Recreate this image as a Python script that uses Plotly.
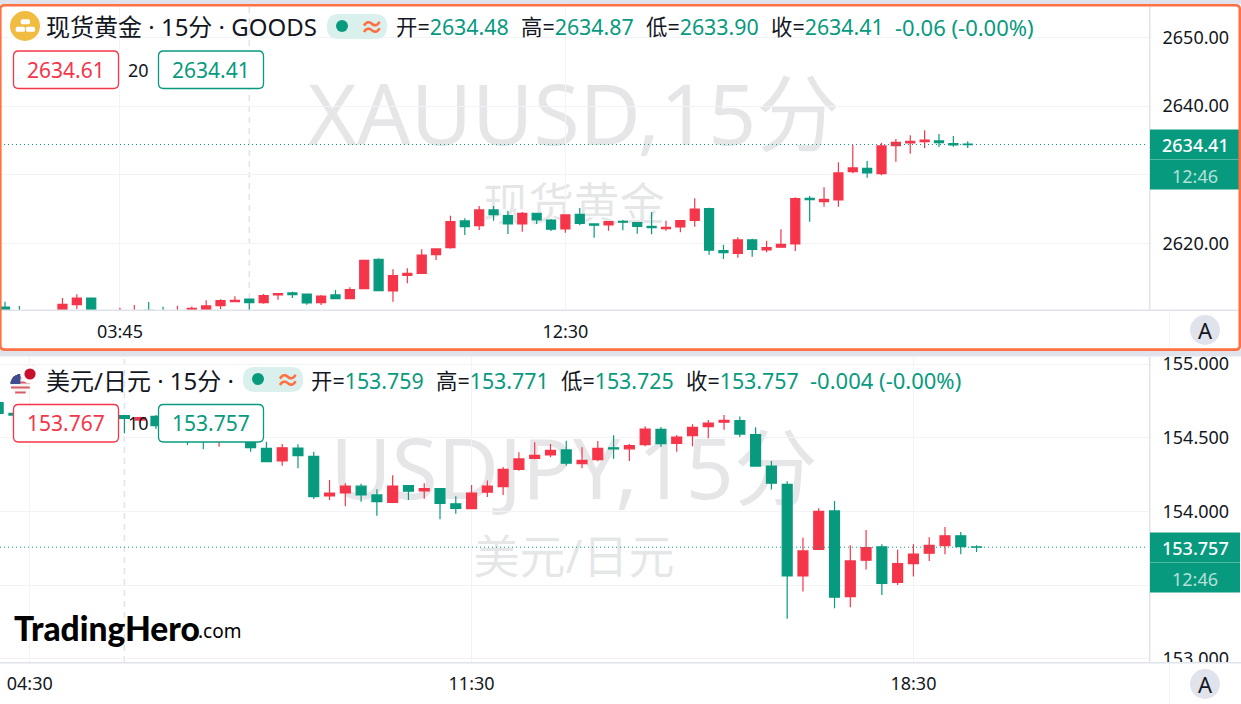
import math

import plotly.graph_objects as go

W, H = 1241, 704
RED = "#F5364A"
GREEN = "#089A7E"
GRID = "#F2F3F7"
EDGE = "#E0E3EB"
ORANGE = "#FF7043"
TEXT = "#131722"
FONT = "Noto Sans, Noto Sans CJK SC, sans-serif"

# spot gold, 15 minute bars
gold_open = [2610.75, 2610.10, 2609.90, 2609.70, 2610.00, 2611.09, 2612.06, 2609.90, 2609.90, 2609.90,
             2610.25, 2610.20, 2609.90, 2610.30, 2610.20, 2610.94, 2611.52, 2611.91, 2611.38, 2612.50,
             2612.79, 2612.64, 2611.38, 2612.50, 2611.96, 2613.42, 2617.70, 2613.08, 2615.34, 2615.63,
             2618.37, 2619.39, 2623.28, 2622.59, 2624.88, 2624.05, 2622.84, 2624.40, 2623.42, 2622.11,
             2624.25, 2622.84, 2622.69, 2623.23, 2623.03, 2622.50, 2622.15, 2622.40, 2623.35, 2625.07,
             2618.95, 2618.57, 2620.51, 2619.05, 2619.45, 2619.93, 2626.58, 2626.09, 2626.33, 2630.46,
             2630.95, 2630.16, 2634.24, 2634.63, 2634.82, 2634.93, 2634.53, 2634.48]
gold_high = [2611.52, 2610.90, 2610.10, 2610.00, 2612.06, 2612.60, 2612.10, 2610.20, 2610.65, 2611.04,
             2611.48, 2610.79, 2610.94, 2610.82, 2611.73, 2611.87, 2612.31, 2611.95, 2612.64, 2612.72,
             2612.98, 2612.66, 2612.50, 2613.23, 2613.62, 2617.64, 2617.84, 2616.24, 2616.40, 2619.15,
             2619.30, 2624.05, 2623.67, 2625.46, 2625.46, 2624.73, 2624.59, 2624.45, 2623.57, 2624.20,
             2625.17, 2622.86, 2623.20, 2623.42, 2623.05, 2624.59, 2623.32, 2623.35, 2626.58, 2625.21,
             2619.82, 2620.90, 2620.70, 2620.41, 2622.07, 2626.73, 2626.92, 2628.18, 2631.82, 2634.39,
             2632.01, 2634.68, 2635.22, 2635.76, 2636.48, 2635.95, 2635.65, 2634.87]
gold_low = [2609.90, 2609.60, 2609.40, 2609.30, 2609.80, 2610.46, 2609.80, 2609.40, 2609.60, 2609.50,
            2609.60, 2609.60, 2609.60, 2610.00, 2609.90, 2610.46, 2611.50, 2610.30, 2611.23, 2611.81,
            2612.06, 2611.09, 2611.04, 2611.90, 2611.90, 2613.40, 2613.10, 2611.52, 2614.20, 2615.60,
            2617.60, 2619.24, 2621.24, 2621.96, 2623.32, 2621.38, 2621.72, 2622.84, 2621.82, 2621.57,
            2622.65, 2620.84, 2621.86, 2621.92, 2621.43, 2621.34, 2621.86, 2621.63, 2622.45, 2618.37,
            2617.74, 2617.93, 2618.08, 2618.72, 2619.40, 2618.91, 2623.17, 2625.36, 2625.36, 2630.22,
            2629.58, 2629.93, 2631.91, 2633.08, 2633.91, 2634.05, 2634.10, 2633.90]
gold_close = [2610.20, 2609.90, 2609.60, 2609.50, 2611.15, 2612.06, 2610.00, 2609.70, 2610.20, 2610.20,
              2609.90, 2609.90, 2610.20, 2610.56, 2610.90, 2611.67, 2611.73, 2611.38, 2612.40, 2612.69,
              2612.54, 2611.33, 2612.35, 2611.96, 2613.27, 2617.55, 2613.13, 2615.31, 2615.66, 2618.32,
              2619.20, 2623.17, 2622.45, 2624.88, 2624.19, 2622.84, 2624.40, 2623.42, 2622.07, 2624.15,
              2622.94, 2622.65, 2623.17, 2623.09, 2622.50, 2622.30, 2622.36, 2623.32, 2625.02, 2619.01,
              2618.66, 2620.51, 2619.15, 2619.39, 2619.88, 2626.52, 2626.38, 2626.44, 2630.27, 2631.00,
              2630.27, 2634.20, 2634.74, 2634.88, 2635.07, 2634.68, 2634.34, 2634.41]

# usd/jpy, 15 minute bars
jpy_open = [154.738, 154.666, 154.650, 154.632, 154.615, 154.645, 154.640, 154.628, 154.650, 154.620,
            154.645, 154.580, 154.555, 154.520, 154.500, 154.540, 154.478, 154.428, 154.342, 154.430,
            154.374, 154.105, 154.125, 154.171, 154.112, 154.062, 154.175, 154.139, 154.154, 154.052,
            154.019, 154.130, 154.168, 154.286, 154.360, 154.383, 154.417, 154.324, 154.351, 154.432,
            154.425, 154.453, 154.557, 154.462, 154.514, 154.575, 154.605, 154.616, 154.521, 154.308,
            154.184, 153.562, 153.743, 154.003, 153.422, 153.669, 153.759, 153.519, 153.645, 153.716,
            153.767, 153.835, 153.759]
jpy_high = [154.750, 154.672, 154.668, 154.650, 154.660, 154.670, 154.662, 154.655, 154.655, 154.642,
            154.655, 154.600, 154.580, 154.540, 154.560, 154.570, 154.520, 154.473, 154.458, 154.456,
            154.405, 154.213, 154.191, 154.188, 154.150, 154.245, 154.179, 154.191, 154.159, 154.103,
            154.179, 154.209, 154.302, 154.401, 154.469, 154.458, 154.480, 154.435, 154.478, 154.517,
            154.458, 154.578, 154.573, 154.519, 154.591, 154.620, 154.654, 154.645, 154.571, 154.342,
            154.204, 153.822, 154.021, 154.071, 153.770, 153.874, 153.778, 153.740, 153.778, 153.824,
            153.894, 153.860, 153.771]
jpy_low = [154.655, 154.645, 154.618, 154.600, 154.600, 154.625, 154.615, 154.612, 154.530, 154.600,
           154.560, 154.540, 154.451, 154.422, 154.439, 154.490, 154.405, 154.335, 154.310, 154.293,
           154.084, 154.077, 154.035, 154.066, 153.971, 154.060, 154.077, 154.086, 153.947, 153.985,
           154.017, 154.098, 154.112, 154.276, 154.354, 154.367, 154.310, 154.293, 154.340, 154.358,
           154.342, 154.442, 154.439, 154.405, 154.442, 154.496, 154.555, 154.505, 154.306, 154.148,
           153.272, 153.456, 153.742, 153.343, 153.350, 153.605, 153.433, 153.501, 153.558, 153.664,
           153.710, 153.710, 153.725]
jpy_close = [154.666, 154.654, 154.632, 154.615, 154.645, 154.640, 154.628, 154.650, 154.632, 154.636,
             154.582, 154.555, 154.520, 154.500, 154.540, 154.510, 154.432, 154.337, 154.432, 154.378,
             154.100, 154.125, 154.171, 154.112, 154.066, 154.171, 154.137, 154.154, 154.055, 154.021,
             154.125, 154.171, 154.286, 154.356, 154.381, 154.415, 154.327, 154.347, 154.428, 154.424,
             154.446, 154.559, 154.460, 154.505, 154.571, 154.600, 154.618, 154.525, 154.308, 154.191,
             153.562, 153.732, 154.001, 153.418, 153.664, 153.755, 153.512, 153.645, 153.711, 153.770,
             153.835, 153.761, 153.757]

gold_ticks = [2620, 2630, 2640, 2650]
gold_tick_text = ["2620.00", "", "2640.00", "2650.00"]
jpy_ticks = [153.0, 153.5, 154.0, 154.5, 155.0]
jpy_tick_text = ["153.000", "153.500", "154.000", "154.500", "155.000"]
gold_time_pos = [8, 39]
gold_time_text = ["03:45", "12:30"]
jpy_time_pos = [2, 30, 58]
jpy_time_text = ["04:30", "11:30", "18:30"]


def px(x):
    return x / W


def py(y):
    return 1 - y / H


def rrect(x0, y0, x1, y1, r):
    # rounded rectangle as a paper-space svg path
    p = [(x0 + r, y0), (x1 - r, y0), (x1, y0), (x1, y0 + r), (x1, y1 - r), (x1, y1), (x1 - r, y1), (x0 + r, y1), (x0, y1), (x0, y1 - r), (x0, y0 + r), (x0, y0), (x0 + r, y0)]
    q = [f"{px(a):.5f},{py(b):.5f}" for a, b in p]
    return f"M{q[0]} L{q[1]} Q{q[2]} {q[3]} L{q[4]} Q{q[5]} {q[6]} L{q[7]} Q{q[8]} {q[9]} L{q[10]} Q{q[11]} {q[12]} Z"


shapes = []
notes = []


def rect(x0, y0, x1, y1, fill, layer="above", line=None, lw=0):
    shapes.append(dict(type="rect", xref="paper", yref="paper", x0=px(x0), x1=px(x1), y0=py(y0), y1=py(y1),
                       fillcolor=fill, layer=layer, line=dict(color=line or fill, width=lw)))


def round_box(x0, y0, x1, y1, r, fill, line=None, lw=0, layer="above"):
    shapes.append(dict(type="path", xref="paper", yref="paper", path=rrect(x0, y0, x1, y1, r), fillcolor=fill,
                       layer=layer, line=dict(color=line or fill, width=lw)))


def circle(cx, cy, r, fill):
    shapes.append(dict(type="circle", xref="paper", yref="paper", x0=px(cx - r), x1=px(cx + r), y0=py(cy + r), y1=py(cy - r),
                       fillcolor=fill, line=dict(width=0), layer="above"))


def note(x, y, text, size, color=TEXT, anchor="left", **kw):
    font = dict(family=FONT, size=size, color=color)
    font.update(kw)
    notes.append(dict(xref="paper", yref="paper", x=px(x), y=py(y), text=text, showarrow=False, xanchor=anchor, yanchor="middle",
                      font=font, borderpad=0))


def watermark(cy, height, text, size):
    shapes.append(dict(type="rect", xref="paper", yref="paper", x0=px(74), x1=px(1074), y0=py(cy + height / 2), y1=py(cy - height / 2),
                       layer="below", fillcolor="rgba(0,0,0,0)", line=dict(width=0),
                       label=dict(text=text, textposition="middle center",
                                  font=dict(family=FONT, size=size, color="rgba(120,123,134,0.19)"))))


def header(title, title_y, pill_x, vals, val_xs, change, change_x):
    note(45, title_y, title, 24)
    round_box(pill_x, title_y - 13, pill_x + 60, title_y + 12, 12, "#DAF0EC")
    circle(pill_x + 15, title_y - 1, 6, GREEN)
    note(pill_x + 45, title_y - 1, "≈", 24, ORANGE, "center", weight="bold")
    for lab, val, x in zip("开高低收", vals, val_xs):
        note(x - 1, title_y, f"{lab}=<span style='color:{GREEN}'>{val}</span>", 21.4)
    note(change_x - 1, title_y, change, 22, GREEN)


def spread_boxes(y0, y1, bid, gap, ask):
    cy = (y0 + y1) / 2
    round_box(13.5, y0, 118.5, y1, 5, "white", RED, 1.3)
    note(66, cy, bid, 21, RED, "center")
    note(138, cy, gap, 18, TEXT, "center")
    round_box(158.5, y0, 263.5, y1, 5, "white", GREEN, 1.3)
    note(211, cy, ask, 21, GREEN, "center")


def price_tag(y0, price):
    rect(1150, y0, 1240, y0 + 30, GREEN)
    rect(1150, y0 + 30, 1240, y0 + 60, GREEN)
    rect(1150, y0 + 29.6, 1240, y0 + 30.4, "#53B9A5")
    note(1195, y0 + 15.5, price, 18, "white", "center", weight=500)
    note(1195, y0 + 46, "12:46", 18, "#B5E0D8", "center")


# background panels, below the traces
rect(0, 0, W, 356.5, "white", "below")
rect(0, 356.5, W, H, "white", "below")
rect(0, 0, W, 4, EDGE, "below")
rect(0, 350, W, 356.5, EDGE, "below")

watermark(118, 120, "XAUUSD,15分", 84)
watermark(206, 60, "现货黄金", 45.5)
watermark(472, 120, "USDJPY,15分", 84)
watermark(558, 60, "美元/日元", 46)

# crosshairs
shapes.append(dict(type="line", xref="x", yref="paper", x0=17, x1=17, y0=py(310), y1=py(7), layer="below",
                   line=dict(color=EDGE, width=1.5, dash="6px,5px")))
shapes.append(dict(type="line", xref="x2", yref="paper", x0=8, x1=8, y0=py(662), y1=py(357), layer="below",
                   line=dict(color=EDGE, width=1.5, dash="6px,5px")))

# last price lines
shapes.append(dict(type="line", xref="paper", yref="y", x0=0, x1=px(1148), y0=gold_close[-1], y1=gold_close[-1], layer="above",
                   line=dict(color=GREEN, width=1, dash="1px,3px")))
shapes.append(dict(type="line", xref="paper", yref="y2", x0=0, x1=px(1148), y0=jpy_close[-1], y1=jpy_close[-1], layer="above",
                   line=dict(color=GREEN, width=1, dash="1px,3px")))

# axis separators
rect(1149, 7, 1150.5, 310, EDGE)
rect(1149, 357, 1150.5, 662, EDGE)
rect(1150.5, 662.8, W, H, "white")
rect(0, 309.5, W, 311, EDGE)
rect(0, 662, W, 663.5, EDGE)
rect(1169, 311, 1169.8, 348, GRID)
rect(1169, 663.5, 1169.8, H, GRID)

# gold icon
circle(25, 26, 15, "#F0BC41")
round_box(20.7, 19.3, 30, 24.3, 1.5, "white")
round_box(15.7, 26.7, 25, 31.7, 1.5, "white")
round_box(26, 26.7, 35, 31.7, 1.5, "white")

# flag icon, a round flag built from stripes cut to the circle
fx, fy, fr = 20.4, 384, 10
circle(fx, fy, fr, "#F4F4F4")
for k in range(4):
    sy = 376.5 + k * 5
    half = math.sqrt(max(fr ** 2 - (sy + 1 - fy) ** 2, 0))
    rect(fx - half, sy, fx + half, sy + 2, "#DC5A66")
for row in range(10):
    half = math.sqrt(max(fr ** 2 - (374.5 + row - fy) ** 2, 0))
    rect(fx - half, 374 + row, fx, 375 + row, "#3F4C8F")
circle(30, 374, 9.5, "#F3F3F3")
circle(30, 374, 8.8, "white")
circle(30, 374, 5.6, "#C8102E")

header("现货黄金 · 15分 · GOODS", 27, 327, ["2634.48", "2634.87", "2633.90", "2634.41"], [396, 521, 646, 771], "-0.06 (-0.00%)", 895)
header("美元/日元 · 15分 ·", 380, 243, ["153.759", "153.771", "153.725", "153.757"], [311, 436, 561, 686], "-0.004 (-0.00%)", 810)

spread_boxes(51, 88.5, "2634.61", "20", "2634.41")
spread_boxes(404.5, 442, "153.767", "10", "153.757")

price_tag(129.5, "2634.41")
price_tag(532.5, "153.757")

# auto scale buttons
circle(1205, 330, 15, EDGE)
note(1205, 330, "A", 22, TEXT, "center")
circle(1205, 684, 15, EDGE)
note(1205, 684, "A", 22, TEXT, "center")

note(13, 628, "TradingHero", 33.5, "#000000", "left", family="Lato, sans-serif", weight=900)
note(197, 631, ".com", 19, "#000000", "left")

# selected panel outline
round_box(0.3, 5.3, 1239.8, 349.6, 4, "rgba(0,0,0,0)", ORANGE, 2.6)

fig = go.Figure()
fig.add_trace(go.Candlestick(
    x=list(range(len(gold_open))), open=gold_open, high=gold_high, low=gold_low, close=gold_close,
    increasing=dict(line=dict(color=RED, width=1.2), fillcolor=RED),
    decreasing=dict(line=dict(color=GREEN, width=1.2), fillcolor=GREEN),
    whiskerwidth=0, xaxis="x", yaxis="y", showlegend=False))
fig.add_trace(go.Candlestick(
    x=list(range(len(jpy_open))), open=jpy_open, high=jpy_high, low=jpy_low, close=jpy_close,
    increasing=dict(line=dict(color=RED, width=1.2), fillcolor=RED),
    decreasing=dict(line=dict(color=GREEN, width=1.2), fillcolor=GREEN),
    whiskerwidth=0, xaxis="x2", yaxis="y2", showlegend=False))

tick_font = dict(family=FONT, size=18, color=TEXT)
fig.update_layout(
    width=W, height=H, margin=dict(l=0, r=0, t=0, b=0), autosize=False,
    paper_bgcolor="white", plot_bgcolor="rgba(0,0,0,0)", showlegend=False,
    boxgap=0.1, boxgroupgap=0.3,
    shapes=shapes, annotations=notes,
    xaxis=dict(domain=[0, px(1149.5)], anchor="y", range=[-0.348, 79.65], rangeslider=dict(visible=False), automargin=False,
               tickmode="array", tickvals=gold_time_pos, ticktext=gold_time_text, tickfont=tick_font,
               showgrid=True, gridcolor=GRID, gridwidth=1, zeroline=False, showline=False, ticks="", ticklabelstandoff=9),
    yaxis=dict(domain=[py(310), py(7)], anchor="x", side="right", range=[2610.31, 2654.44], automargin=False,
               tickmode="array", tickvals=gold_ticks, ticktext=gold_tick_text, tickfont=tick_font,
               showgrid=True, gridcolor=GRID, gridwidth=1.3, zeroline=False, showline=False, ticks="", ticklabelstandoff=12),
    xaxis2=dict(domain=[0, px(1149.5)], anchor="y2", range=[0.117, 72.96], rangeslider=dict(visible=False), automargin=False,
                tickmode="array", tickvals=jpy_time_pos, ticktext=jpy_time_text, tickfont=tick_font,
                showgrid=True, gridcolor=GRID, gridwidth=1, zeroline=False, showline=False, ticks="", ticklabelstandoff=9),
    yaxis2=dict(domain=[py(662), py(357)], anchor="x2", side="right", range=[152.978, 155.048], automargin=False,
                tickmode="array", tickvals=jpy_ticks, ticktext=jpy_tick_text, tickfont=tick_font,
                showgrid=True, gridcolor=GRID, gridwidth=1.3, zeroline=False, showline=False, ticks="", ticklabelstandoff=12),
)

fig.write_html("out.html", config={"displayModeBar": False}, post_script="document.body.style.margin='0';document.body.style.overflow='hidden';")
